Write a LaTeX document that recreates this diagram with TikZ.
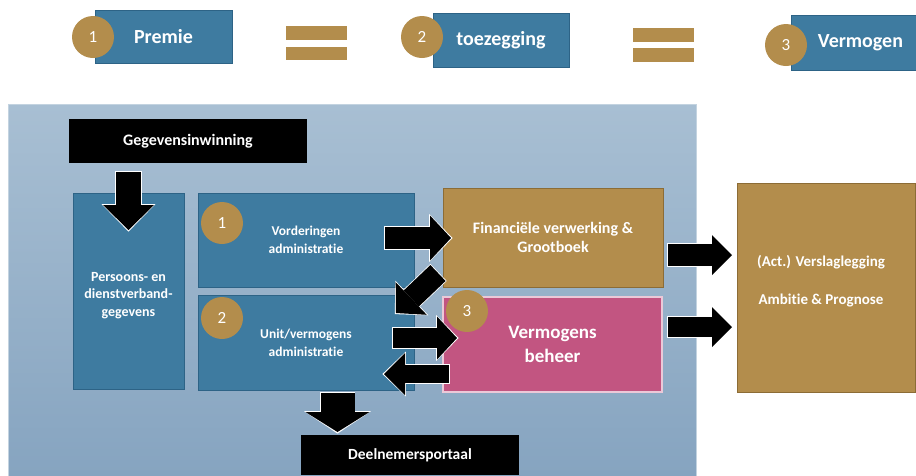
\documentclass[tikz,border=0pt]{standalone}
\usepackage{fontspec}
\setmainfont{Carlito}[Ligatures={NoCommon}]
\usetikzlibrary{arrows.meta,calc}
\definecolor{boxblue}{HTML}{3E7BA0}
\definecolor{boxblueedge}{HTML}{2D6386}
\definecolor{goldfill}{HTML}{B38D4C}
\definecolor{goldedge}{HTML}{8C6C36}
\definecolor{pinkfill}{HTML}{C25581}
\definecolor{pinkedge}{HTML}{EBC9D8}
\definecolor{paneltop}{HTML}{A8BFD3}
\definecolor{panelbot}{HTML}{86A4C0}
\definecolor{paneledge}{HTML}{C3D3E0}
\tikzset{
  box/.style={rectangle, inner sep=0pt, outer sep=0pt, anchor=north west, text=white, align=center},
  bluebox/.style={box, fill=boxblue, draw=boxblueedge, line width=0.8pt},
  goldbox/.style={box, fill=goldfill, draw=goldedge, line width=0.8pt},
  pinkbox/.style={box, fill=pinkfill, draw=pinkedge, line width=1.2pt},
  blackbox/.style={box, fill=black},
  numdisc/.style={circle, fill=goldfill, minimum size=42pt, inner sep=0pt, text=white, font=\fontsize{17}{20}\selectfont},
  eqbar/.style={rectangle, fill=goldfill, inner sep=0pt, outer sep=0pt, anchor=north west},
  txt/.style={text=white, align=center, inner sep=0pt},
}
\newcommand{\blockarrow}[5]{%
  \pgfmathsetmacro{\bas}{#1+1.6}\pgfmathsetmacro{\baw}{#2+2.8}\pgfmathsetmacro{\bal}{#3+2.4}%
  \draw[white, line width=\bas pt, shorten <=-0.8pt, shorten >=-1.6pt,
        -{Triangle[length=\bal pt, width=\baw pt, line width=0pt]}] (#4) -- (#5);
  \draw[black, line width=#1pt,
        -{Triangle[length=#3pt, width=#2pt, line width=0pt]}] (#4) -- (#5);}
\begin{document}
\begin{tikzpicture}[x=1pt, y=-1pt]
\useasboundingbox (0,0) rectangle (916,475);

% top row
\node[bluebox, minimum width=137pt, minimum height=53pt, font=\bfseries\fontsize{20}{24}\selectfont] (premie) at (95,10) {Premie};
\node[numdisc] (n1top) at (93,37) {1};
\node[eqbar, minimum width=61pt, minimum height=14pt] (eq1a) at (286,26) {};
\node[eqbar, minimum width=61pt, minimum height=13pt] (eq1b) at (286,47) {};
\node[bluebox, minimum width=136pt, minimum height=54pt, font=\bfseries\fontsize{20}{24}\selectfont] (toez) at (433,13) {toezegging};
\node[numdisc] (n2top) at (422,37) {2};
\node[eqbar, minimum width=61pt, minimum height=14pt] (eq2a) at (633,28) {};
\node[eqbar, minimum width=61pt, minimum height=14pt] (eq2b) at (633,48) {};
\node[bluebox, minimum width=125pt, minimum height=55pt, font=\bfseries\fontsize{20}{24}\selectfont] (verm) at (791,15) {\hspace*{14pt}Vermogen};
\node[numdisc] (n3top) at (786,45) {3};

% panel
\node[rectangle, anchor=north west, inner sep=0pt, outer sep=0pt, minimum width=688pt, minimum height=372pt,
      top color=paneltop, bottom color=panelbot, draw=paneledge, line width=0.8pt] (panel) at (8,104) {};

\node[blackbox, minimum width=238pt, minimum height=44pt, font=\bfseries\fontsize{16}{19}\selectfont] (geg) at (69,119) {Gegevensinwinning};
\node[bluebox, minimum width=111pt, minimum height=196pt, font=\bfseries\fontsize{14}{17.5}\selectfont] (pers) at (73,193) {\rule{0pt}{6pt}\\[-6pt]Persoons- en\\dienstverband-\\gegevens};
\node[bluebox, minimum width=216pt, minimum height=94pt, font=\bfseries\fontsize{13.5}{18}\selectfont] (vord) at (198,193) {Vorderingen\\administratie};
\node[bluebox, minimum width=216pt, minimum height=95pt, font=\bfseries\fontsize{13.5}{18}\selectfont] (unit) at (198,295) {Unit/vermogens\\administratie};
\node[goldbox, minimum width=220pt, minimum height=99pt, font=\bfseries\fontsize{16}{19}\selectfont] (fin) at (443,188) {Financiële verwerking \&\\Grootboek};
\node[pinkbox, minimum width=219pt, minimum height=95pt, font=\bfseries\fontsize{19}{24}\selectfont] (pink) at (443,297) {Vermogens\\beheer};
\node[goldbox, minimum width=178pt, minimum height=209pt] (vers) at (737,183) {};
\node[txt, font=\bfseries\fontsize{15}{19}\selectfont] (verstxt) at ($(vers.center)+(-5,-6.5)$) {(Act.) Verslaglegging\\[19pt]Ambitie \& Prognose};
\node[blackbox, minimum width=218pt, minimum height=40pt, font=\bfseries\fontsize{15.5}{19}\selectfont] (portal) at (301,435) {Deelnemersportaal};

\node[numdisc] (c1) at (222,223) {1};
\node[numdisc] (c2) at (222,318) {2};
\node[numdisc] (c3) at (467,311) {3};

% arrows
\coordinate (a1s) at ($(pers.north)+(0,-21)$);
\coordinate (a1e) at ($(pers.north)+(0,37)$);
\blockarrow{25}{51}{25}{a1s}{a1e}
\coordinate (a2s) at ($(vord.east)+(-29,-2)$);
\coordinate (a2e) at ($(fin.west)+(8,0.5)$);
\blockarrow{22}{45}{21}{a2s}{a2e}
\coordinate (a3s) at ($(fin.south west)+(-5,-14)$);
\coordinate (a3e) at ($(unit.north east)+(-18,18)$);
\blockarrow{22}{45}{21}{a3s}{a3e}
\coordinate (a4s) at ($(unit.east)+(-21,-4.5)$);
\coordinate (a4e) at ($(pink.west)+(14,-6.5)$);
\blockarrow{20}{43}{20}{a4s}{a4e}
\coordinate (a5s) at ($(pink.west)+(6,29.5)$);
\coordinate (a5e) at ($(unit.east)+(-30,31.5)$);
\blockarrow{18}{42}{21}{a5s}{a5e}
\coordinate (a6s) at ($(fin.east)+(5,17.5)$);
\coordinate (a6e) at ($(vers.west)+(-5,-32.5)$);
\blockarrow{22}{40}{20}{a6s}{a6e}
\coordinate (a7s) at ($(pink.east)+(6,-17.5)$);
\coordinate (a7e) at ($(vers.west)+(-5,39.5)$);
\blockarrow{20}{40}{20}{a7s}{a7e}
\coordinate (a8s) at ($(unit.south)+(31.5,3)$);
\coordinate (a8e) at ($(portal.north)+(-72.5,-3)$);
\blockarrow{34}{64}{20}{a8s}{a8e}
\end{tikzpicture}
\end{document}
